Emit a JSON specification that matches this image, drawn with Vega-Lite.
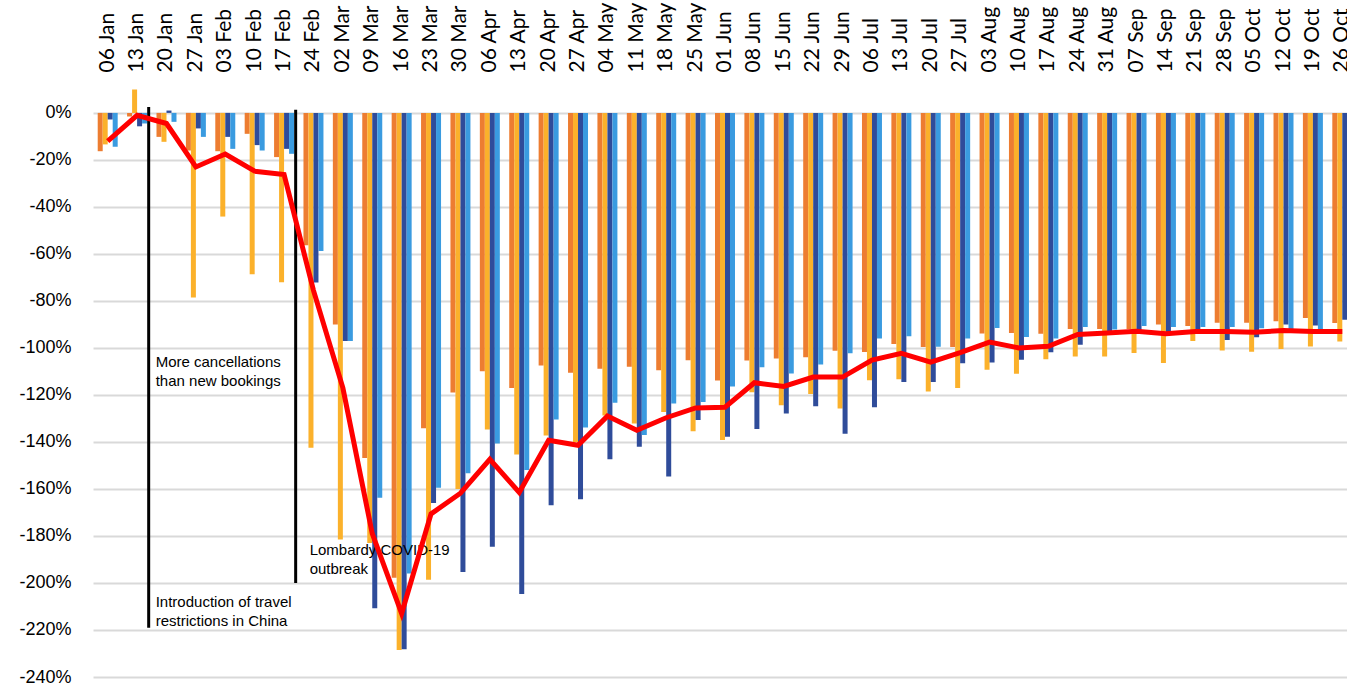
{
  "$schema": "https://vega.github.io/schema/vega-lite/v6.json",
  "width": 1254,
  "height": 597,
  "autosize": {"type": "none"},
  "padding": {"left": 93, "top": 80, "right": 0, "bottom": 9},
  "background": "white",
  "config": {
    "view": {"stroke": null},
    "axis": {"grid": false, "domain": false, "ticks": false, "title": null}
  },
  "datasets": {
    "bars": [
      {"w":"06 Jan","s":"A","v":-16.3},{"w":"06 Jan","s":"B","v":-13.4},{"w":"06 Jan","s":"C","v":-2.8},{"w":"06 Jan","s":"D","v":-14.4},
      {"w":"13 Jan","s":"A","v":-1.5},{"w":"13 Jan","s":"B","v":10},{"w":"13 Jan","s":"C","v":-5.7},{"w":"13 Jan","s":"D","v":-4.5},
      {"w":"20 Jan","s":"A","v":-10.2},{"w":"20 Jan","s":"B","v":-12.3},{"w":"20 Jan","s":"C","v":1},{"w":"20 Jan","s":"D","v":-3.8},
      {"w":"27 Jan","s":"A","v":-16},{"w":"27 Jan","s":"B","v":-78.5},{"w":"27 Jan","s":"C","v":-6.6},{"w":"27 Jan","s":"D","v":-10.2},
      {"w":"03 Feb","s":"A","v":-16.3},{"w":"03 Feb","s":"B","v":-44.1},{"w":"03 Feb","s":"C","v":-10.2},{"w":"03 Feb","s":"D","v":-15.3},
      {"w":"10 Feb","s":"A","v":-8.9},{"w":"10 Feb","s":"B","v":-68.6},{"w":"10 Feb","s":"C","v":-13.7},{"w":"10 Feb","s":"D","v":-16},
      {"w":"17 Feb","s":"A","v":-18.8},{"w":"17 Feb","s":"B","v":-72.1},{"w":"17 Feb","s":"C","v":-15.3},{"w":"17 Feb","s":"D","v":-17.4},
      {"w":"24 Feb","s":"A","v":-56.3},{"w":"24 Feb","s":"B","v":-142.5},{"w":"24 Feb","s":"C","v":-72.2},{"w":"24 Feb","s":"D","v":-58.8},
      {"w":"02 Mar","s":"A","v":-90},{"w":"02 Mar","s":"B","v":-181.5},{"w":"02 Mar","s":"C","v":-97},{"w":"02 Mar","s":"D","v":-97},
      {"w":"09 Mar","s":"A","v":-146.8},{"w":"09 Mar","s":"B","v":-183},{"w":"09 Mar","s":"C","v":-210.8},{"w":"09 Mar","s":"D","v":-163.7},
      {"w":"16 Mar","s":"A","v":-197.8},{"w":"16 Mar","s":"B","v":-228.5},{"w":"16 Mar","s":"C","v":-228.2},{"w":"16 Mar","s":"D","v":-196},
      {"w":"23 Mar","s":"A","v":-134.2},{"w":"23 Mar","s":"B","v":-198.6},{"w":"23 Mar","s":"C","v":-166},{"w":"23 Mar","s":"D","v":-159.5},
      {"w":"30 Mar","s":"A","v":-119},{"w":"30 Mar","s":"B","v":-160},{"w":"30 Mar","s":"C","v":-195.3},{"w":"30 Mar","s":"D","v":-153.3},
      {"w":"06 Apr","s":"A","v":-109.9},{"w":"06 Apr","s":"B","v":-134.7},{"w":"06 Apr","s":"C","v":-184.6},{"w":"06 Apr","s":"D","v":-140.7},
      {"w":"13 Apr","s":"A","v":-117},{"w":"13 Apr","s":"B","v":-145.3},{"w":"13 Apr","s":"C","v":-204.7},{"w":"13 Apr","s":"D","v":-151.9},
      {"w":"20 Apr","s":"A","v":-107.5},{"w":"20 Apr","s":"B","v":-137.2},{"w":"20 Apr","s":"C","v":-166.9},{"w":"20 Apr","s":"D","v":-130.4},
      {"w":"27 Apr","s":"A","v":-110.6},{"w":"27 Apr","s":"B","v":-140},{"w":"27 Apr","s":"C","v":-164.4},{"w":"27 Apr","s":"D","v":-133.9},
      {"w":"04 May","s":"A","v":-108.9},{"w":"04 May","s":"B","v":-128.7},{"w":"04 May","s":"C","v":-147.4},{"w":"04 May","s":"D","v":-123.3},
      {"w":"11 May","s":"A","v":-108},{"w":"11 May","s":"B","v":-132.1},{"w":"11 May","s":"C","v":-142},{"w":"11 May","s":"D","v":-137},
      {"w":"18 May","s":"A","v":-109.5},{"w":"18 May","s":"B","v":-127.2},{"w":"18 May","s":"C","v":-154.7},{"w":"18 May","s":"D","v":-123.6},
      {"w":"25 May","s":"A","v":-105.2},{"w":"25 May","s":"B","v":-135.4},{"w":"25 May","s":"C","v":-130.7},{"w":"25 May","s":"D","v":-123},
      {"w":"01 Jun","s":"A","v":-113.8},{"w":"01 Jun","s":"B","v":-139.2},{"w":"01 Jun","s":"C","v":-137.8},{"w":"01 Jun","s":"D","v":-116.4},
      {"w":"08 Jun","s":"A","v":-105.3},{"w":"08 Jun","s":"B","v":-118.8},{"w":"08 Jun","s":"C","v":-134.5},{"w":"08 Jun","s":"D","v":-108.2},
      {"w":"15 Jun","s":"A","v":-104.5},{"w":"15 Jun","s":"B","v":-124.4},{"w":"15 Jun","s":"C","v":-127.9},{"w":"15 Jun","s":"D","v":-110.9},
      {"w":"22 Jun","s":"A","v":-104},{"w":"22 Jun","s":"B","v":-119.6},{"w":"22 Jun","s":"C","v":-124.8},{"w":"22 Jun","s":"D","v":-107},
      {"w":"29 Jun","s":"A","v":-101.2},{"w":"29 Jun","s":"B","v":-125.8},{"w":"29 Jun","s":"C","v":-136.5},{"w":"29 Jun","s":"D","v":-102.3},
      {"w":"06 Jul","s":"A","v":-101.7},{"w":"06 Jul","s":"B","v":-113.7},{"w":"06 Jul","s":"C","v":-125.2},{"w":"06 Jul","s":"D","v":-96},
      {"w":"13 Jul","s":"A","v":-98.3},{"w":"13 Jul","s":"B","v":-113.3},{"w":"13 Jul","s":"C","v":-114.5},{"w":"13 Jul","s":"D","v":-95},
      {"w":"20 Jul","s":"A","v":-99.6},{"w":"20 Jul","s":"B","v":-118.5},{"w":"20 Jul","s":"C","v":-114.5},{"w":"20 Jul","s":"D","v":-99.5},
      {"w":"27 Jul","s":"A","v":-99.6},{"w":"27 Jul","s":"B","v":-117},{"w":"27 Jul","s":"C","v":-106.5},{"w":"27 Jul","s":"D","v":-96},
      {"w":"03 Aug","s":"A","v":-93.9},{"w":"03 Aug","s":"B","v":-109.3},{"w":"03 Aug","s":"C","v":-106.2},{"w":"03 Aug","s":"D","v":-91.5},
      {"w":"10 Aug","s":"A","v":-93.6},{"w":"10 Aug","s":"B","v":-111},{"w":"10 Aug","s":"C","v":-105},{"w":"10 Aug","s":"D","v":-95.3},
      {"w":"17 Aug","s":"A","v":-94},{"w":"17 Aug","s":"B","v":-104.8},{"w":"17 Aug","s":"C","v":-101.8},{"w":"17 Aug","s":"D","v":-96},
      {"w":"24 Aug","s":"A","v":-91.9},{"w":"24 Aug","s":"B","v":-103.6},{"w":"24 Aug","s":"C","v":-98.6},{"w":"24 Aug","s":"D","v":-91.1},
      {"w":"31 Aug","s":"A","v":-91.9},{"w":"31 Aug","s":"B","v":-103.6},{"w":"31 Aug","s":"C","v":-93.3},{"w":"31 Aug","s":"D","v":-92.1},
      {"w":"07 Sep","s":"A","v":-91.9},{"w":"07 Sep","s":"B","v":-102.1},{"w":"07 Sep","s":"C","v":-93.3},{"w":"07 Sep","s":"D","v":-90.7},
      {"w":"14 Sep","s":"A","v":-90},{"w":"14 Sep","s":"B","v":-106.4},{"w":"14 Sep","s":"C","v":-93.3},{"w":"14 Sep","s":"D","v":-91.1},
      {"w":"21 Sep","s":"A","v":-90.7},{"w":"21 Sep","s":"B","v":-97},{"w":"21 Sep","s":"C","v":-92.1},{"w":"21 Sep","s":"D","v":-91.1},
      {"w":"28 Sep","s":"A","v":-89.3},{"w":"28 Sep","s":"B","v":-101.1},{"w":"28 Sep","s":"C","v":-96.6},{"w":"28 Sep","s":"D","v":-91.1},
      {"w":"05 Oct","s":"A","v":-89.3},{"w":"05 Oct","s":"B","v":-101.6},{"w":"05 Oct","s":"C","v":-95.4},{"w":"05 Oct","s":"D","v":-91.6},
      {"w":"12 Oct","s":"A","v":-88.6},{"w":"12 Oct","s":"B","v":-100.4},{"w":"12 Oct","s":"C","v":-90},{"w":"12 Oct","s":"D","v":-92.3},
      {"w":"19 Oct","s":"A","v":-87.3},{"w":"19 Oct","s":"B","v":-99.4},{"w":"19 Oct","s":"C","v":-90.4},{"w":"19 Oct","s":"D","v":-92.3},
      {"w":"26 Oct","s":"A","v":-89.4},{"w":"26 Oct","s":"B","v":-97.3},{"w":"26 Oct","s":"C","v":-88},{"w":"26 Oct","s":"D","v":-90}
    ],
    "line": [
      {"w":"06 Jan","v":-12},{"w":"13 Jan","v":-1},{"w":"20 Jan","v":-4.5},{"w":"27 Jan","v":-23},
      {"w":"03 Feb","v":-17.5},{"w":"10 Feb","v":-24.8},{"w":"17 Feb","v":-26.2},{"w":"24 Feb","v":-75.5},
      {"w":"02 Mar","v":-117},{"w":"09 Mar","v":-179},{"w":"16 Mar","v":-213},{"w":"23 Mar","v":-170.6},
      {"w":"30 Mar","v":-161.8},{"w":"06 Apr","v":-147.4},{"w":"13 Apr","v":-161.5},{"w":"20 Apr","v":-139.3},
      {"w":"27 Apr","v":-141.4},{"w":"04 May","v":-129},{"w":"11 May","v":-135},{"w":"18 May","v":-129.7},
      {"w":"25 May","v":-125.5},{"w":"01 Jun","v":-125.2},{"w":"08 Jun","v":-114.8},{"w":"15 Jun","v":-116.4},
      {"w":"22 Jun","v":-112.4},{"w":"29 Jun","v":-112.4},{"w":"06 Jul","v":-105.2},{"w":"13 Jul","v":-102.3},
      {"w":"20 Jul","v":-106},{"w":"27 Jul","v":-102},{"w":"03 Aug","v":-97.5},{"w":"10 Aug","v":-100},
      {"w":"17 Aug","v":-99.3},{"w":"24 Aug","v":-94.3},{"w":"31 Aug","v":-93.6},{"w":"07 Sep","v":-92.9},
      {"w":"14 Sep","v":-94},{"w":"21 Sep","v":-93},{"w":"28 Sep","v":-93},{"w":"05 Oct","v":-93.3},
      {"w":"12 Oct","v":-92.6},{"w":"19 Oct","v":-93},{"w":"26 Oct","v":-93}
    ],
    "events": [
      {"w":"13 Jan","top":2.5,"bottom":-219},
      {"w":"17 Feb","top":1.3,"bottom":-200}
    ]
  },
  "layer": [
    {
      "data": {"name": "bars"},
      "mark": {"type": "bar"},
      "encoding": {
        "x": {
          "field": "w", "type": "ordinal",
          "scale": {
            "domain": ["06 Jan","13 Jan","20 Jan","27 Jan","03 Feb","10 Feb","17 Feb","24 Feb","02 Mar","09 Mar","16 Mar","23 Mar","30 Mar","06 Apr","13 Apr","20 Apr","27 Apr","04 May","11 May","18 May","25 May","01 Jun","08 Jun","15 Jun","22 Jun","29 Jun","06 Jul","13 Jul","20 Jul","27 Jul","03 Aug","10 Aug","17 Aug","24 Aug","31 Aug","07 Sep","14 Sep","21 Sep","28 Sep","05 Oct","12 Oct","19 Oct","26 Oct"],
            "range": [0, 1264],
            "paddingInner": 0.32,
            "paddingOuter": 0.16
          },
          "axis": {
            "orient": "top",
            "labelAngle": -90,
            "labelFont": "Lato",
            "labelFontSize": 21,
            "labelColor": "#000000",
            "labelPadding": 8,
            "labelOverlap": false,
            "labelBound": false,
            "labelFlush": false
          }
        },
        "xOffset": {
          "field": "s", "type": "nominal",
          "scale": {"domain": ["A","B","C","D"], "paddingInner": 0, "paddingOuter": 0}
        },
        "y": {
          "field": "v", "type": "quantitative",
          "scale": {"domain": [-240, 14], "nice": false, "zero": false},
          "axis": {
            "values": [-240,-220,-200,-180,-160,-140,-120,-100,-80,-60,-40,-20,0],
            "labelExpr": "datum.value + '%'",
            "labelFont": "Liberation Sans",
            "labelFontSize": 18,
            "labelColor": "#000000",
            "labelPadding": 22,
            "grid": true,
            "gridColor": "#D9D9D9",
            "gridWidth": 2
          }
        },
        "color": {
          "field": "s", "type": "nominal",
          "scale": {"domain": ["A","B","C","D"], "range": ["#ED7D31","#FBB12B","#2F4C9A","#3A9BE0"]},
          "legend": null
        }
      }
    },
    {
      "mark": {"type": "rule", "color": "#000000", "strokeWidth": 3, "strokeDash": [11, 7]},
      "encoding": {"y": {"datum": -100, "type": "quantitative"}}
    },
    {
      "data": {"name": "events"},
      "mark": {"type": "rule", "color": "#000000", "strokeWidth": 3},
      "encoding": {
        "x": {"field": "w", "type": "ordinal", "bandPosition": 1.08},
        "y": {"field": "top", "type": "quantitative"},
        "y2": {"field": "bottom"}
      }
    },
    {
      "data": {"values": [{"w": "13 Jan", "v": -103, "t": ["More cancellations", "than new bookings"]}, {"w": "13 Jan", "v": -205, "t": ["Introduction of travel", "restrictions in China"]}]},
      "mark": {"type": "text", "align": "left", "baseline": "top", "dx": 7, "font": "Liberation Sans", "fontSize": 15, "lineHeight": 19, "color": "#000000"},
      "encoding": {
        "x": {"field": "w", "type": "ordinal", "bandPosition": 1.08},
        "y": {"field": "v", "type": "quantitative"},
        "text": {"field": "t"}
      }
    },
    {
      "data": {"values": [{"w": "17 Feb", "v": -183, "t": ["Lombardy COVID-19", "outbreak"]}]},
      "mark": {"type": "text", "align": "left", "baseline": "top", "dx": 14, "font": "Liberation Sans", "fontSize": 15, "lineHeight": 19, "color": "#000000"},
      "encoding": {
        "x": {"field": "w", "type": "ordinal", "bandPosition": 1.08},
        "y": {"field": "v", "type": "quantitative"},
        "text": {"field": "t"}
      }
    },
    {
      "data": {"name": "line"},
      "mark": {"type": "line", "color": "#FF0000", "strokeWidth": 5},
      "encoding": {
        "x": {"field": "w", "type": "ordinal"},
        "y": {"field": "v", "type": "quantitative"}
      }
    }
  ]
}
